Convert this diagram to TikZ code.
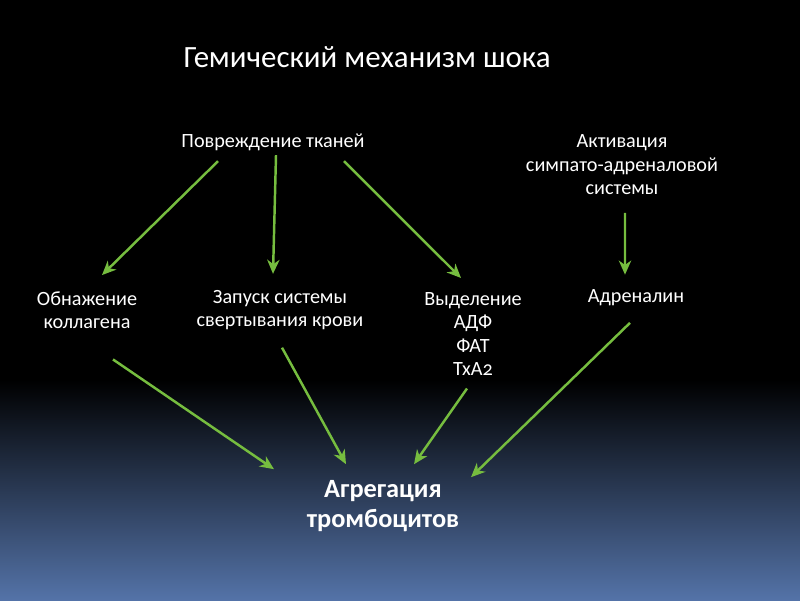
\documentclass[tikz,border=0pt]{standalone}
\usepackage{fontspec}
\setmainfont{Carlito}[Numbers=OldStyle]
\usepackage{tikz}
\usetikzlibrary{arrows.meta}
\definecolor{arrgreen}{RGB}{118,189,63}
\definecolor{bgblue}{RGB}{84,115,168}
\tikzset{
  lbl/.style={text=white, align=center, font=\fontsize{11.5}{13.4}\selectfont},
  ttl/.style={text=white, font=\fontsize{17.6}{20}\selectfont},
  res/.style={text=white, align=center, font=\fontsize{15}{17}\selectfont\bfseries},
  arr/.style={arrgreen, line width=1.4pt, -{Stealth[length=8pt,width=7pt,inset=2.5pt]}}
}
\begin{document}
\begin{tikzpicture}
\useasboundingbox (0,0) rectangle (16,12);
% background
\fill[black] (0,0) rectangle (16,12);
\shade[top color=black, bottom color=bgblue] (0,0) rectangle (16,4.4);

% title
\node[ttl] (title) at (7.34,10.86) {Гемический механизм шока};

% upper row
\node[lbl] (povr) at (5.46,9.16) {Повреждение тканей};
\node[lbl] (akt) at (12.44,8.70) {Активация\\симпато-адреналовой\\системы};

% middle row
\node[lbl] (obn) at (1.74,5.80) {Обнажение\\коллагена};
\node[lbl] (zap) at (5.60,5.80) {Запуск системы\\свертывания крови};
\node[lbl] (vyd) at (9.46,5.32) {Выделение\\АДФ\\ФАТ\\TxA2};
\node[lbl] (adr) at (12.72,6.04) {Адреналин};

% result
\node[res] (agr) at (7.66,1.88) {Агрегация\\тромбоцитов};

% arrows down
\draw[arr] ([xshift=-1.1cm,yshift=-0.09cm]povr.south) -- ([xshift=0.3cm,yshift=0.2cm]obn.north);
\draw[arr] ([xshift=0.06cm,yshift=0.03cm]povr.south) -- ([xshift=-0.14cm,yshift=0.2cm]zap.north);
\draw[arr] ([xshift=1.42cm,yshift=-0.09cm]povr.south) -- ([xshift=-0.24cm,yshift=0.16cm]vyd.north);
\draw[arr] ([xshift=0.06cm,yshift=-0.23cm]akt.south) -- ([xshift=-0.22cm,yshift=0.18cm]adr.north);

% arrows to result
\draw[arr] ([xshift=0.52cm,yshift=-0.49cm]obn.south) -- ([xshift=-2.18cm,yshift=0.1cm]agr.north);
\draw[arr] ([xshift=0.04cm,yshift=-0.23cm]zap.south) -- ([xshift=-0.74cm,yshift=0.2cm]agr.north);
\draw[arr] ([xshift=-0.12cm,yshift=-0.13cm]vyd.south) -- ([xshift=0.62cm,yshift=0.2cm]agr.north);
\draw[arr] ([xshift=-0.12cm,yshift=-0.21cm]adr.south) -- ([xshift=1.76cm,yshift=-0.06cm]agr.north);
\end{tikzpicture}
\end{document}
